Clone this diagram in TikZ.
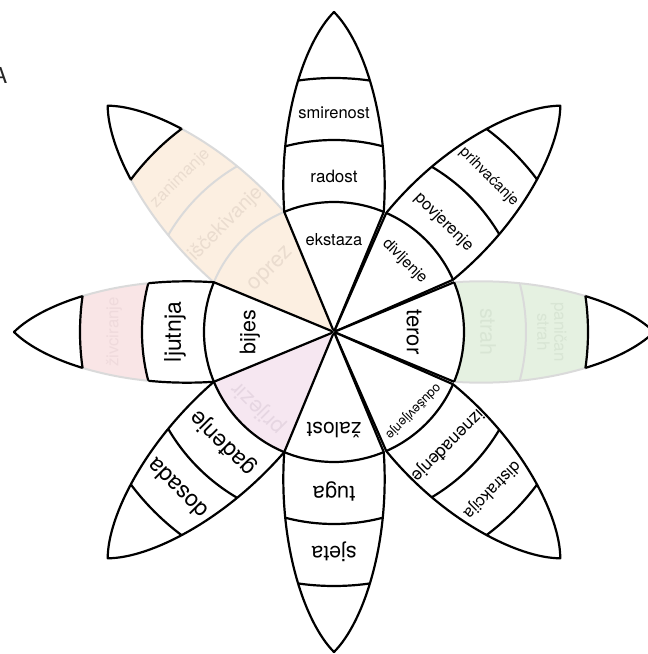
\documentclass[tikz,border=0pt]{standalone}
\usepackage{fontspec}
\setmainfont{TeX Gyre Heros}
\definecolor{fadeline}{HTML}{DADADA}
\definecolor{fadeorange}{HTML}{FCEFE1}
\definecolor{fadepink}{HTML}{F9E5E6}
\definecolor{fadegreen}{HTML}{E5F1E1}
\definecolor{fadepurple}{HTML}{F6E7F1}
\definecolor{txtorange}{HTML}{EADCCF}
\definecolor{txtpink}{HTML}{EFDADC}
\definecolor{txtgreen}{HTML}{D8E5D4}
\definecolor{txtpurple}{HTML}{E6D6E2}
\newcommand{\lf}[1]{\fontsize{#1}{#1}\selectfont}
\newcommand{\petalpath}[1]{(0,0) -- (-#1:130)
  .. controls (210,-56) and (290,-30) .. (320,0)
  .. controls (290,30) and (210,56) .. (#1:130) -- cycle}
\newcommand{\bandclip}[2]{\clip (-40:#1) arc[start angle=-40, end angle=40, radius=#1]
  -- (40:#2) arc[start angle=40, end angle=-40, radius=#2] -- cycle;}

\begin{document}
\begin{tikzpicture}[x=1pt, y=1pt, line join=round,
    liveline/.style={draw=black, line width=2.2pt},
    fadedline/.style={draw=fadeline, line width=2pt},
    lab/.style={inner sep=0pt, align=center}]
  \useasboundingbox (-334,-322) rectangle (314,332);
  % faded bands first
  \foreach \ang/\rin/\rout/\col in {0/130/254/fadegreen, -135/0.1/130/fadepurple,
      180/192/254/fadepink, 135/0.1/254/fadeorange}{%
    \begin{scope}[rotate=\ang]
      \begin{scope}
        \bandclip{\rin}{\rout}
        \path[fill=\col, fadedline] \petalpath{22.5};
      \end{scope}
    \end{scope}}
  \foreach \ang/\r in {0/192, 135/130, 135/192}{%
    \begin{scope}[rotate=\ang]
      \clip \petalpath{22.5};
      \draw[fadedline] (-30:\r) arc[start angle=-30, end angle=30, radius=\r];
    \end{scope}}
  % live bands
  \foreach \ang/\half/\rin/\rout in {90/22.5/0.1/340, 45/21.3/0.1/340,
      0/22.5/0.1/130, 0/22.5/254/340, -45/21.3/0.1/340, -90/22.5/0.1/340,
      -135/22.5/130/340, 180/22.5/0.1/192, 180/22.5/254/340, 135/22.5/254/340}{%
    \begin{scope}[rotate=\ang]
      \begin{scope}
        \bandclip{\rin}{\rout}
        \path[fill=white, liveline] \petalpath{\half};
      \end{scope}
    \end{scope}}
  \foreach \ang/\half/\radii in {90/22.5/{130,192,254}, 45/21.3/{130,192,254},
      0/22.5/{130,254}, -45/21.3/{130,192,254}, -90/22.5/{130,192,254},
      -135/22.5/{130,192,254}, 180/22.5/{130,192,254}, 135/22.5/{254}}{%
    \begin{scope}[rotate=\ang]
      \clip \petalpath{\half};
      \foreach \r in \radii
        \draw[liveline] (-30:\r) arc[start angle=-30, end angle=30, radius=\r];
    \end{scope}}
  % labels
  \foreach \ang/\r/\sz/\txt/\nm/\col in {
      90/92/16.5/ekstaza/ekstaza/black, 90/156/17/radost/radost/black,
      90/219/16.5/smirenost/smirenost/black,
      45/100/15.5/divljenje/divljenje/black, 45/155/16.5/povjerenje/povjerenje/black,
      45/219/15/prihvaćanje/prihvacanje/black,
      0/80/22/teror/teror/black, 0/154/21.5/strah/strah/txtgreen,
      0/218/17/{paničan\\strah}/panicni/txtgreen,
      -45/112/13/oduševljenje/odusevljenje/black,
      -45/160/17.5/iznenađenje/iznenadjenje/black,
      -45/223/16.5/distrakcija/distrakcija/black,
      -90/98/21/žalost/zalost/black, -90/159/22/tuga/tuga/black,
      -90/220/21.5/sjeta/sjeta/black,
      -135/107/22/prijezir/prijezir/txtpurple, -135/157/23/gađenje/gadjenje/black,
      -135/222/23/dosada/dosada/black,
      180/84/21.5/bijes/bijes/black, 180/159/23/ljutnja/ljutnja/black,
      180/220/16.8/živciranje/zivciranje/txtpink,
      135/88/22/oprez/oprez/txtorange, 135/153/19.8/iščekivanje/iscekivanje/txtorange,
      135/217/16.8/zanimanje/zanimanje/txtorange}{%
    \node[lab, text=\col, rotate=\ang-90, font=\lf{\sz}] (\nm) at (\ang:\r) {\txt};}
  \node[font=\lf{22}, text=black!85] (tag) at (-334,257) {A};
\end{tikzpicture}
\end{document}
